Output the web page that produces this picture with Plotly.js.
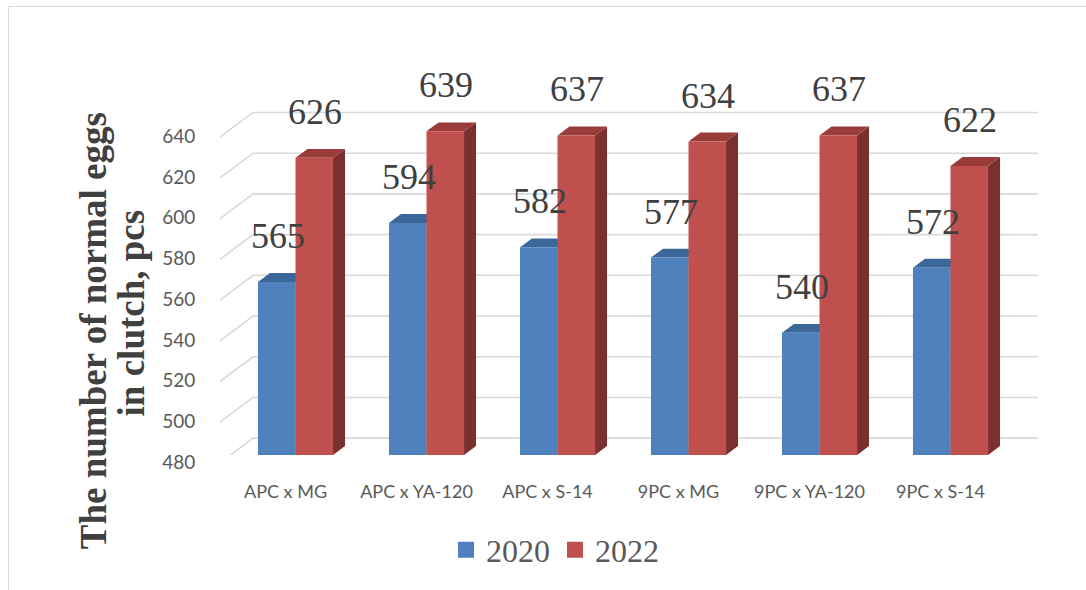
<!DOCTYPE html>
<html>
<head>
<meta charset="utf-8">
<script src="https://cdn.plot.ly/plotly-3.0.1.min.js"></script>
<style>
  html, body { margin: 0; padding: 0; background: #ffffff; }
  #wrap { position: relative; width: 1086px; height: 590px; overflow: hidden; }
  #frame { position: absolute; left: 8px; top: 6px; right: -2px; bottom: -2px;
           border-left: 1.5px solid #d9d9d9; border-top: 1.5px solid #d9d9d9; pointer-events: none; }
  #chart { position: absolute; left: 0; top: 0; width: 1086px; height: 590px; }
</style>
</head>
<body>
<div id="wrap">
  <div id="chart"></div>
  <div id="frame"></div>
</div>
<script>
// ---- data ----
const categories = ["APC x MG", "APC x YA-120", "APC x S-14", "9PC x MG", "9PC x YA-120", "9PC x S-14"];
const series2020 = [565, 594, 582, 577, 540, 572];
const series2022 = [626, 639, 637, 634, 637, 622];
const seriesNames = ["2020", "2022"];
const yTickVals = [480, 500, 520, 540, 560, 580, 600, 620, 640];
const yTitleLines = ["The number of normal eggs", "in clutch, pcs"];

// ---- styling / geometry ----
const W = 1086, H = 590;
const M = { l: 230, r: 70, t: 60, b: 131 };
const PW = W - M.l - M.r, PH = H - M.t - M.b;
const pxPerUnit = 329 / 160;
const yMin = 480, yMax = yMin + PH / pxPerUnit;
const u = px => px / pxPerUnit;          // pixel height -> data units
const BARGAP = 0.427;
const catW = PW / categories.length;
const barW = catW * (1 - BARGAP) / 2;
const DX = 12, DY = 9;                   // bar depth
const colors = {
  front: ["#4F81BD", "#C0504D"],
  top:   ["#3C679A", "#9A3C39"],
  side:  ["#385D8A", "#7A302E"]
};
const grid = "#d9d9d9";
const serif = "Liberation Serif, Times New Roman, serif";
const sans = "Lato, Carlito, Calibri, sans-serif";

const allSeries = [series2020, series2022];

const traces = allSeries.map((vals, s) => ({
  type: "bar",
  name: seriesNames[s],
  x: categories,
  y: vals,
  showlegend: false,
  marker: { color: colors.front[s], line: { width: 0 } },
  hoverinfo: "x+y+name"
}));
// legend entries with larger square keys
seriesNames.forEach((nm, s) => {
  traces.push({
    type: "scatter", mode: "markers", name: nm,
    x: [null], y: [null], showlegend: true,
    marker: { symbol: "square", size: 16, color: colors.front[s] }
  });
});

const shapes = [];
// back-wall gridlines with left-wall diagonals
yTickVals.forEach(t => {
  shapes.push({
    type: "path", xref: "paper", yref: "y", xsizemode: "pixel", xanchor: 0,
    path: `M -10,${t - u(8)} L 23,${t + u(17)} L ${PW + 22},${t + u(17)}`,
    line: { color: grid, width: 1.6 }, layer: "below"
  });
});
// 3D faces of bars
allSeries.forEach((vals, s) => {
  const x0 = s === 0 ? -barW : 0;
  const x1 = s === 0 ? 0 : barW;
  vals.forEach((v, i) => {
    shapes.push({
      type: "path", xref: "x", yref: "y", xsizemode: "pixel", xanchor: categories[i],
      path: `M ${x1},${yMin} L ${x1},${v} L ${x1 + DX},${v + u(DY)} L ${x1 + DX},${yMin + u(DY)} Z`,
      fillcolor: colors.side[s], line: { width: 0 }, layer: "below"
    });
    shapes.push({
      type: "path", xref: "x", yref: "y", xsizemode: "pixel", xanchor: categories[i],
      path: `M ${x0},${v} L ${x0 + DX},${v + u(DY)} L ${x1 + DX},${v + u(DY)} L ${x1},${v} Z`,
      fillcolor: colors.top[s], line: { width: 0 }, layer: "below"
    });
  });
});

const annotations = [];
allSeries.forEach((vals, s) => {
  vals.forEach((v, i) => {
    annotations.push({
      x: categories[i], y: v, xref: "x", yref: "y",
      text: String(v), showarrow: false,
      xshift: (s === 0 ? -barW / 2 : barW / 2) + 1, yshift: 46,
      yanchor: "middle", xanchor: "center",
      font: { family: serif, size: 36, color: "#404040" }
    });
  });
});
// y-axis title (rotated), one annotation per line for tight line spacing
const titlePos = [{ x: 93, y: 334 }, { x: 131, y: 316 }];
yTitleLines.forEach((ln, k) => {
  annotations.push({
    xref: "paper", yref: "paper",
    x: (titlePos[k].x - M.l) / PW, y: (M.t + PH - titlePos[k].y) / PH,
    text: "<b>" + ln + "</b>",
    textangle: -90, showarrow: false, xanchor: "center", yanchor: "middle",
    font: { family: serif, size: 37, color: "#404040" }
  });
});

const layout = {
  width: W, height: H,
  margin: M,
  paper_bgcolor: "rgba(0,0,0,0)",
  plot_bgcolor: "rgba(0,0,0,0)",
  barmode: "group",
  bargap: BARGAP,
  bargroupgap: 0,
  showlegend: true,
  legend: {
    orientation: "h", xref: "paper", yref: "paper",
    x: (555 - M.l) / PW, xanchor: "center",
    y: -(555 - (M.t + PH)) / PH, yanchor: "middle",
    font: { family: serif, size: 32, color: "#595959" },
    itemwidth: 30, traceorder: "normal"
  },
  xaxis: {
    type: "category",
    showgrid: false, zeroline: false, showline: false,
    ticks: "outside", ticklen: 20, tickcolor: "rgba(0,0,0,0)",
    ticklabelshift: -10,
    tickfont: { family: sans, size: 18, color: "#595959" }
  },
  yaxis: {
    range: [yMin, yMax],
    tickvals: yTickVals,
    showgrid: false, zeroline: false, showline: false,
    ticks: "outside", ticklen: 30, tickcolor: "rgba(0,0,0,0)",
    ticklabelshift: 7,
    tickfont: { family: sans, size: 19, color: "#595959" }
  },
  shapes: shapes,
  annotations: annotations
};

Plotly.newPlot("chart", traces, layout, { displayModeBar: false, staticPlot: true });
</script>
</body>
</html>
